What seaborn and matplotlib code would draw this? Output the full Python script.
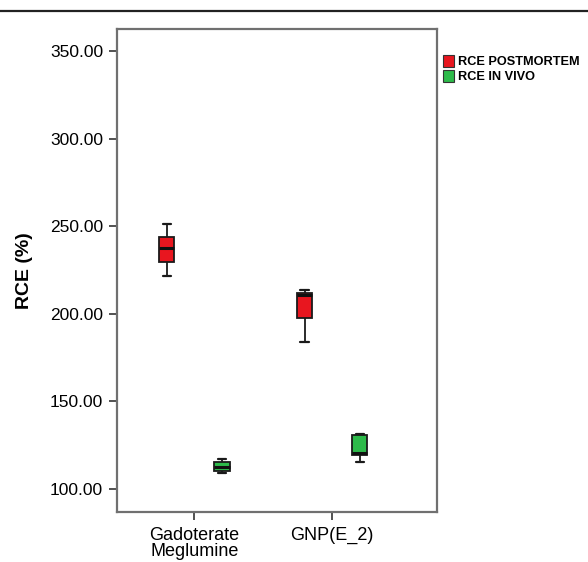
import numpy as np
import pandas as pd
import seaborn as sns
import matplotlib.pyplot as plt
from matplotlib.lines import Line2D
from matplotlib.patches import Patch

# five-number summaries: whisker low, Q1, median, Q3, whisker high
agents = ["Gadoterate\nMeglumine", "GNP(E_2)"]
groups = ["RCE POSTMORTEM", "RCE IN VIVO"]
gado_postmortem = [221.7, 229.7, 237.7, 244.0, 251.1]
gado_invivo = [109.0, 110.3, 112.7, 115.2, 117.0]
gnp_postmortem = [184.1, 197.4, 210.7, 212.0, 213.6]
gnp_invivo = [115.6, 119.4, 120.4, 131.0, 131.5]

rows = []
for agent, group, vals in [
    (agents[0], groups[0], gado_postmortem),
    (agents[0], groups[1], gado_invivo),
    (agents[1], groups[0], gnp_postmortem),
    (agents[1], groups[1], gnp_invivo),
]:
    for v in vals:
        rows.append({"agent": agent, "group": group, "rce": v})
df = pd.DataFrame(rows)

sns.set_style("white")
plt.rcParams["font.family"] = ["Liberation Sans", "DejaVu Sans"]
plt.rcParams["text.color"] = "black"
plt.rcParams["xtick.color"] = "black"
plt.rcParams["ytick.color"] = "black"
plt.rcParams["axes.labelcolor"] = "black"

colors = {"RCE POSTMORTEM": "#e8161f", "RCE IN VIVO": "#2dba4a"}

fig = plt.figure(figsize=(5.88, 5.62), dpi=100)
ax = fig.add_axes([0.199, 0.089, 0.544, 0.859])

sns.boxplot(data=df, x="agent", y="rce", hue="group", order=agents,
            hue_order=groups, palette=colors, saturation=1, width=0.8,
            gap=0.72, whis=(0, 100), linewidth=1.3, linecolor="#1a1a1a",
            medianprops={"linewidth": 2.2, "color": "#111111"},
            capprops={"linewidth": 1.6}, capwidths=0.06,
            legend=False, ax=ax)

ax.set_ylim(86.9, 362.6)
ax.set_xlim(-0.56, 1.76)
ax.set_yticks([100, 150, 200, 250, 300, 350])
ax.set_yticklabels([f"{t:.2f}" for t in [100, 150, 200, 250, 300, 350]],
                   fontsize=12.5)
ax.set_xticks([0, 1])
ax.set_xticklabels(agents, fontsize=13, linespacing=0.88)
ax.set_xlabel("")
ax.set_ylabel("RCE (%)", fontsize=14, fontweight="bold", labelpad=12)

for s in ax.spines.values():
    s.set_color("#707070")
    s.set_linewidth(1.6)
ax.tick_params(axis="both", which="major", direction="out", length=6,
               width=1.2, color="#333333", left=True, bottom=True, pad=4)
ax.tick_params(axis="x", pad=5)

handles = [Patch(facecolor=colors[g], edgecolor="#333333", linewidth=0.8)
           for g in groups]
ax.legend(handles, groups, loc="upper left", bbox_to_anchor=(0.99, 0.965),
          frameon=False, handlelength=0.9, handleheight=1.0,
          handletextpad=0.3, labelspacing=0.15, borderaxespad=0.3,
          prop={"weight": "bold", "size": 9.2})

fig.add_artist(Line2D([0, 1], [1 - 11 / 562, 1 - 11 / 562],
                      transform=fig.transFigure, color="#222222",
                      linewidth=1.6))

fig.savefig("out.png", dpi=100)
